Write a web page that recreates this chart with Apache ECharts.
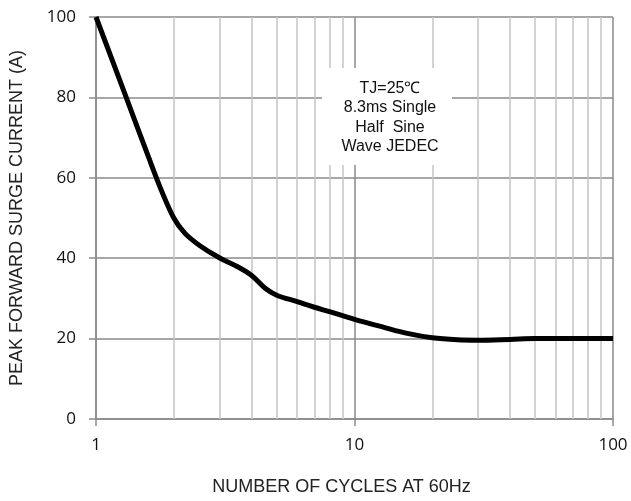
<!DOCTYPE html>
<html>
<head>
<meta charset="utf-8">
<script src="https://cdn.jsdelivr.net/npm/echarts@6/dist/echarts.min.js"></script>
<style>html,body{margin:0;padding:0;background:#fff}#c{width:631px;height:501px}</style>
</head>
<body>
<div id="c"></div>
<script>
// Number of cycles at 60Hz (x) and peak forward surge current in A (y)
const cycles  = [1, 1.3, 1.6, 1.8, 2, 2.2, 2.5, 3, 3.5, 4, 4.5, 5, 6, 7, 8, 10, 13, 16, 20, 25, 30, 40, 50, 70, 100];
const current = [100, 80.5, 65, 56.5, 50, 46.3, 43.3, 40.1, 38, 35.7, 32.6, 30.8, 29.2, 27.8, 26.7, 24.8, 22.8, 21.3, 20.2, 19.7, 19.6, 19.8, 20, 20, 20];
const minorLines = [2, 3, 4, 5, 6, 7, 8, 9, 20, 30, 40, 50, 60, 70, 80, 90];
const yTicks = [0, 20, 40, 60, 80, 100];
const xTitle = 'NUMBER OF CYCLES AT 60Hz';
const yTitle = 'PEAK FORWARD SURGE CURRENT (A)';
const noteLines = ['TJ=25\u2103', '8.3ms Single', 'Half  Sine', 'Wave JEDEC'];

const chart = echarts.init(document.getElementById('c'), null, {renderer: 'canvas'});
const major = '#8a8a8a', minor = '#c4c4c4';
chart.setOption({
  animation: false,
  grid: {left: 93, right: 18, top: 17, bottom: 75},
  xAxis: {
    type: 'log', logBase: 10, min: 1, max: 100,
    name: xTitle, nameLocation: 'middle', nameGap: 59,
    nameTextStyle: {fontFamily: 'Liberation Sans', fontSize: 18, color: '#222', padding: [0, 26, 0, 0]},
    axisLine: {show: true, lineStyle: {color: major, width: 1.5}},
    axisTick: {show: true, length: 7, lineStyle: {color: major, width: 1.5}},
    axisLabel: {fontFamily: 'Open Sans', fontSize: 17, color: '#111', margin: 18},
    splitLine: {show: true, lineStyle: {color: major, width: 1.5}}
  },
  yAxis: {
    type: 'value', min: yTicks[0], max: yTicks[yTicks.length - 1], interval: 20,
    name: yTitle, nameLocation: 'middle', nameGap: 70,
    nameTextStyle: {fontFamily: 'Liberation Sans', fontSize: 18, color: '#222'},
    axisLine: {show: true, lineStyle: {color: major, width: 1.5}},
    axisTick: {show: true, length: 7, lineStyle: {color: major, width: 1.5}},
    axisLabel: {fontFamily: 'Open Sans', fontSize: 17, color: '#111', margin: 20},
    splitLine: {show: true, lineStyle: {color: major, width: 1.5}}
  },
  series: [
    {
      type: 'line', data: [], z: 1, silent: true,
      markLine: {
        silent: true, symbol: 'none', animation: false,
        label: {show: false},
        lineStyle: {color: minor, width: 1.5, type: 'solid'},
        data: minorLines.map(v => ({xAxis: v}))
      }
    },
    {
      type: 'line', z: 5, smooth: 0.35, showSymbol: false, symbol: 'none',
      lineStyle: {color: '#000', width: 5},
      data: cycles.map((c, i) => [c, current[i]])
    }
  ],
  graphic: [
    {type: 'rect', left: 322, top: 68, shape: {width: 130, height: 97}, style: {fill: '#fff'}, z: 10},
    {type: 'text', x: 390, y: 79, z: 11,
     style: {text: noteLines.join('\n'), font: '16px "Liberation Sans"', fill: '#111', align: 'center', lineHeight: 19.3}}
  ]
});
</script>
</body>
</html>
